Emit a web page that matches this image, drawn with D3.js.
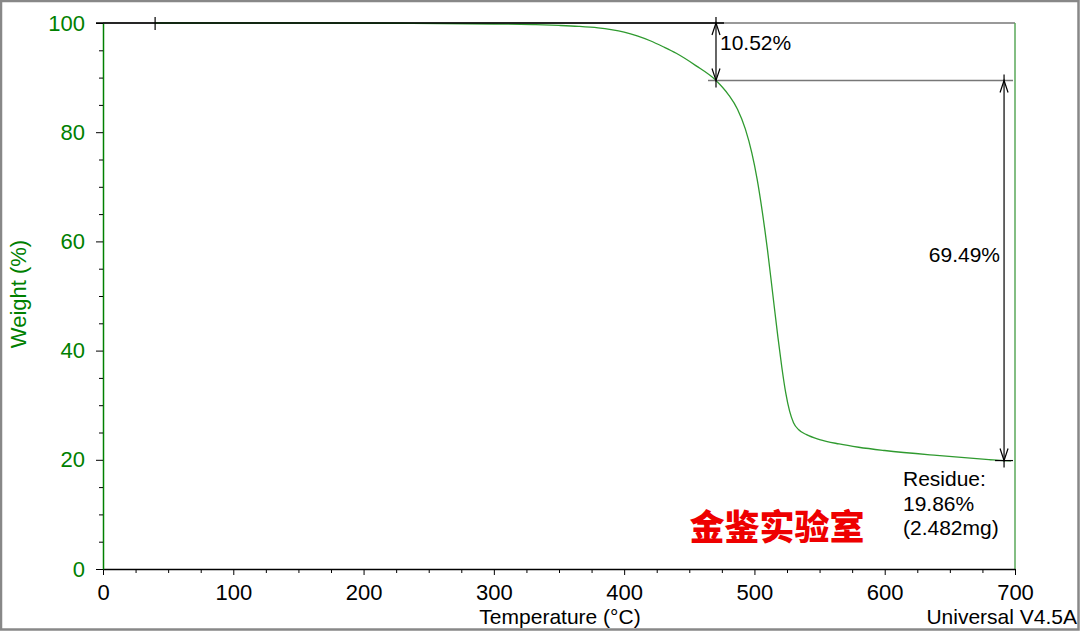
<!DOCTYPE html>
<html><head><meta charset="utf-8">
<script src="https://cdn.jsdelivr.net/npm/d3@7"></script>
<style>body{margin:0;background:#fff;}svg{display:block;font-family:Arial,"Liberation Sans",sans-serif;}</style>
</head><body>
<svg id="c" width="1080" height="631"></svg>
<script>
// ---- data ----
const temps   = [40, 150, 230, 300, 330, 350, 365, 380, 390, 400, 410, 420, 430, 440, 455, 470.5, 480, 487, 493, 498, 502, 506, 510, 514, 518, 521, 524, 527, 530, 534, 540, 550, 565, 580, 600, 640, 680, 691.6, 697];
const weights = [100, 100, 99.95, 99.82, 99.7, 99.55, 99.38, 99.1, 98.78, 98.33, 97.65, 96.75, 95.65, 94.45, 92.2, 89.48, 86.9, 84.2, 80.6, 76.2, 71.5, 65.5, 58.5, 50.5, 42.5, 37.0, 32.3, 28.9, 26.8, 25.5, 24.6, 23.7, 22.9, 22.3, 21.7, 20.8, 20.05, 19.86, 19.8];
const xTickValues = [0, 100, 200, 300, 400, 500, 600, 700];
const yTickValues = [0, 20, 40, 60, 80, 100];
const stepStart = 470.5, stepTop = 100, stepBottom = 89.48, stepLabel = "10.52%";
const residueT = 691.6, residueW = 19.86, lossLabel = "69.49%";
const residueLines = ["Residue:", "19.86%", "(2.482mg)"];
const startT = 40;

const svg = d3.select("#c");
const W = 1080, H = 631;
const green = "#008000";
const x = d3.scaleLinear().domain([0, 700]).range([103, 1015]);
const y = d3.scaleLinear().domain([0, 100]).range([569, 23]);

// outer border
svg.append("rect").attr("x", 1).attr("y", 1).attr("width", W - 2.5).attr("height", H - 2.5)
  .attr("fill", "none").attr("stroke", "#888").attr("stroke-width", 2.5);

// plot frame: top (gray), right (green)
svg.append("line").attr("x1", x(0)).attr("x2", x(700)).attr("y1", y(100)).attr("y2", y(100)).attr("stroke", "#777").attr("stroke-width", 1.5);
svg.append("line").attr("x1", x(700)).attr("x2", x(700)).attr("y1", y(100)).attr("y2", y(0)).attr("stroke", "#5aa85a").attr("stroke-width", 1.5);

// x axis
const xAxis = svg.append("g").attr("transform", `translate(0,${y(0)})`)
  .call(d3.axisBottom(x).tickValues(xTickValues).tickSize(6).tickSizeOuter(0).tickPadding(9).tickFormat(d3.format("d")));
xAxis.select(".domain").attr("stroke", "#000").attr("stroke-width", 1.5);
xAxis.selectAll(".tick line").attr("stroke", "#000");
xAxis.selectAll("text").attr("font-size", 22).attr("fill", "#000").attr("font-family", "Arial, 'Liberation Sans', sans-serif");
svg.append("g").attr("transform", `translate(0,${y(0)})`)
  .call(d3.axisBottom(x).tickValues(d3.range(0, 701, 25).filter(v => v % 100)).tickSize(4).tickFormat(""))
  .call(g => g.select(".domain").remove()).selectAll("line").attr("stroke", "#000");

// y axis
const yAxis = svg.append("g").attr("transform", `translate(${x(0)},0)`)
  .call(d3.axisLeft(y).tickValues(yTickValues).tickSize(7).tickSizeOuter(0).tickPadding(11));
yAxis.select(".domain").attr("stroke", green).attr("stroke-width", 1.5);
yAxis.selectAll(".tick line").attr("stroke", "#000");
yAxis.selectAll("text").attr("font-size", 22).attr("fill", green).attr("font-family", "Arial, 'Liberation Sans', sans-serif");
svg.append("g").attr("transform", `translate(${x(0)},0)`)
  .call(d3.axisLeft(y).tickValues(d3.range(0, 101, 5).filter(v => v % 20)).tickSize(4).tickFormat(""))
  .call(g => g.select(".domain").remove()).selectAll("line").attr("stroke", "#000");

// axis titles
svg.append("text").attr("x", 560).attr("y", 624).attr("text-anchor", "middle").attr("font-size", 21).attr("fill", "#000").text("Temperature (°C)");
svg.append("text").attr("x", 1077).attr("y", 624).attr("text-anchor", "end").attr("font-size", 21).attr("fill", "#000").text("Universal V4.5A");
svg.append("text").attr("transform", `translate(26,${y(50) - 2}) rotate(-90)`).attr("text-anchor", "middle").attr("font-size", 22).attr("fill", green).text("Weight (%)");

// curve
const line = d3.line().x(d => x(d[0])).y(d => y(d[1])).curve(d3.curveMonotoneX);
svg.append("path").datum(temps.map((t, i) => [t, weights[i]]))
  .attr("d", line).attr("fill", "none").attr("stroke", "#2f9a2f").attr("stroke-width", 1.3);

// baseline annotation (black) from start to step
svg.append("line").attr("x1", x(0) - 7).attr("x2", x(stepStart) + 8).attr("y1", y(stepTop)).attr("y2", y(stepTop)).attr("stroke", "#000").attr("stroke-width", 1.5);
svg.append("line").attr("x1", x(startT)).attr("x2", x(startT)).attr("y1", y(stepTop) - 6).attr("y2", y(stepTop) + 7).attr("stroke", "#000").attr("stroke-width", 1.2);

// gray line at step bottom
svg.append("line").attr("x1", x(stepStart) - 8).attr("x2", x(700) - 2).attr("y1", y(stepBottom)).attr("y2", y(stepBottom)).attr("stroke", "#777").attr("stroke-width", 1.5);

function arrow(xp, yTop, yBot) {
  const g = svg.append("g").attr("stroke", "#000").attr("stroke-width", 1.2).attr("fill", "none");
  g.append("line").attr("x1", xp).attr("x2", xp).attr("y1", yTop - 6).attr("y2", yBot + 7);
  g.append("path").attr("d", `M${xp - 4},${yTop + 12}L${xp},${yTop}L${xp + 4},${yTop + 12}`);
  g.append("path").attr("d", `M${xp - 4},${yBot - 12}L${xp},${yBot}L${xp + 4},${yBot - 12}`);
}
arrow(x(stepStart), y(stepTop), y(stepBottom));
arrow(x(residueT), y(stepBottom), y(residueW));
// residue tick
svg.append("line").attr("x1", x(residueT) - 9).attr("x2", x(700) - 2).attr("y1", y(residueW)).attr("y2", y(residueW)).attr("stroke", "#000").attr("stroke-width", 1.2);

// labels
svg.append("text").attr("x", x(stepStart) + 4).attr("y", 50).attr("font-size", 21).attr("fill", "#000").text(stepLabel);
svg.append("text").attr("x", x(residueT) - 4).attr("y", 262).attr("text-anchor", "end").attr("font-size", 21).attr("fill", "#000").text(lossLabel);
svg.selectAll(".res").data(residueLines).enter().append("text")
  .attr("x", 903).attr("y", (d, i) => 486 + i * 24.5).attr("font-size", 21).attr("fill", "#000").text(d => d);

// watermark
svg.append("text").attr("x", 777).attr("y", 540).attr("text-anchor", "middle")
  .attr("font-family", "'Noto Sans CJK SC', sans-serif").attr("font-weight", 900).attr("font-size", 35)
  .attr("fill", "#ee0000").text("金鉴实验室");
</script>
</body></html>
